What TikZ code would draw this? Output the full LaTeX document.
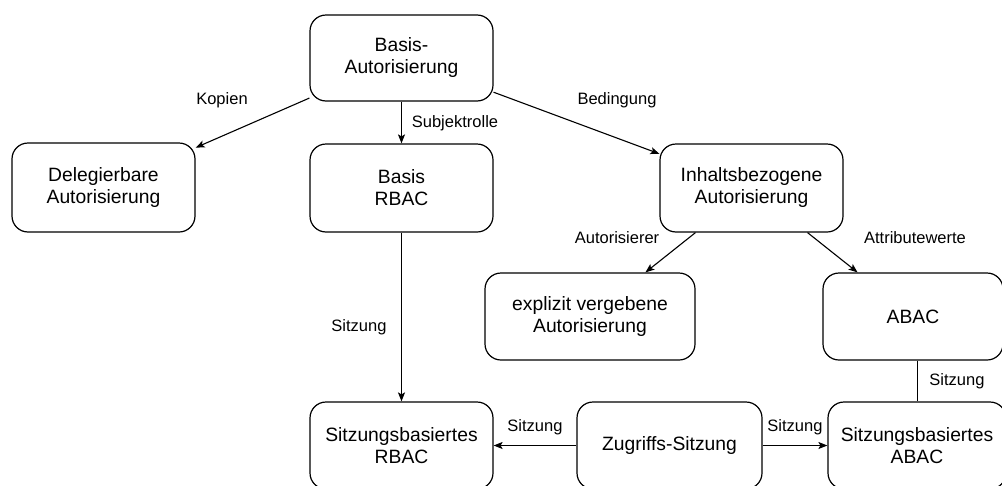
\documentclass[tikz,border=0pt]{standalone}
\usepackage{fontspec}
\setmainfont{Liberation Sans}
\usetikzlibrary{arrows.meta}

\begin{document}
\begin{tikzpicture}[x=1pt, y=-1pt,
  box/.style={draw, line width=1.2pt, rounded corners=16pt, align=center,
    inner sep=0pt, font=\fontsize{19.3}{22}\selectfont},
  edge/.style={line width=1.1pt, -{Stealth[length=9pt, width=7pt, inset=2pt]}},
  plain/.style={line width=0.9pt},
  lbl/.style={font=\fontsize{16.5}{19}\selectfont, inner sep=0pt}]

  % page frame
  \useasboundingbox (0,0) rectangle (1002,485);

  % nodes
  \node[box, minimum width=183pt, minimum height=86pt] (base)  at (401.5,58)    {Basis-\\Autorisierung};
  \node[box, minimum width=183pt, minimum height=89pt] (deleg) at (103.5,187.5) {Delegierbare\\Autorisierung};
  \node[box, minimum width=183pt, minimum height=88pt] (brbac) at (401.5,188)   {Basis\\RBAC};
  \node[box, minimum width=183pt, minimum height=88pt] (inhalt) at (751.5,188)  {Inhaltsbezogene\\Autorisierung};
  \node[box, minimum width=210pt, minimum height=87pt] (expl)  at (590,316.5)   {explizit vergebene\\Autorisierung};
  \node[box, minimum width=180pt, minimum height=87pt] (abac)  at (913,316.5)   {ABAC};
  \node[box, minimum width=183pt, minimum height=87pt] (srbac) at (401.5,445.5) {Sitzungsbasiertes\\RBAC};
  \node[box, minimum width=185pt, minimum height=87pt] (zug)   at (669.5,445.5) {Zugriffs-Sitzung};
  \node[box, minimum width=178pt, minimum height=87pt] (sabac) at (917,445.5)   {Sitzungsbasiertes\\ABAC};

  % connectors
  \draw[edge] (base) -- (deleg);
  \draw[edge] (base) -- (brbac);
  \draw[edge] (base) -- (inhalt);
  \draw[edge] (brbac) -- (srbac);
  \draw[edge] (inhalt) -- (expl);
  \draw[edge] (inhalt) -- (abac);
  \draw[plain] (sabac.north |- abac.south) -- (sabac.north);
  \draw[edge] (zug) -- (srbac);
  \draw[edge] (zug) -- (sabac);

  % connector labels
  \node[lbl] (lkop)  at (222,100) {Kopien};
  \node[lbl] (lsub)  at (455,123) {Subjektrolle};
  \node[lbl] (lbed)  at (617,100) {Bedingung};
  \node[lbl] (laut)  at (617,238) {Autorisierer};
  \node[lbl] (latt)  at (915,238) {Attributewerte};
  \node[lbl] (ls1)   at (359,327) {Sitzung};
  \node[lbl] (ls2)   at (535,427) {Sitzung};
  \node[lbl] (ls3)   at (795,427) {Sitzung};
  \node[lbl] (ls4)   at (957,381) {Sitzung};
\end{tikzpicture}
\end{document}
